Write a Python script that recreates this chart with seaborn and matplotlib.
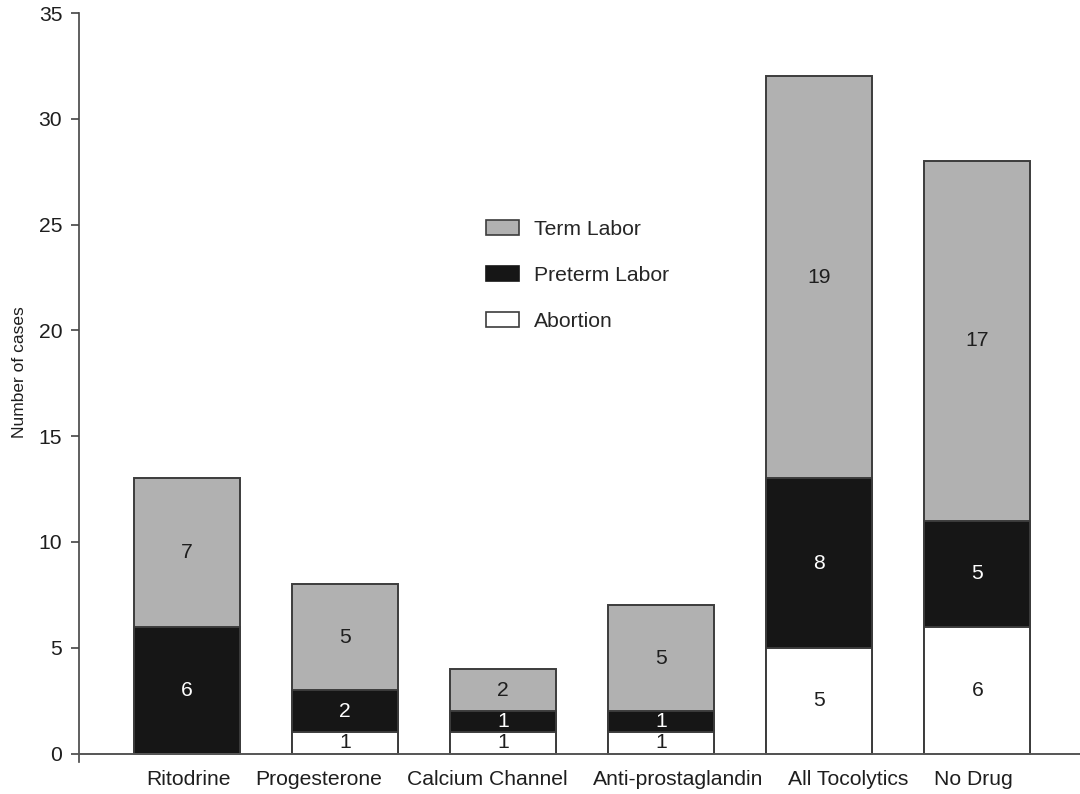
import matplotlib
matplotlib.use("Agg")
import matplotlib.pyplot as plt
import seaborn as sns
import numpy as np
from matplotlib.patches import Patch

# Outcome counts per treatment group
categories = ["Ritodrine", "Progesterone", "Calcium Channel", "Anti-prostaglandin",
              "All Tocolytics", "No Drug"]
abortion = [0, 1, 1, 1, 5, 6]
preterm_labor = [6, 2, 1, 1, 8, 5]
term_labor = [7, 5, 2, 5, 19, 17]
y_ticks = [0, 5, 10, 15, 20, 25, 30, 35]

sns.set_theme(style="white")
plt.rcParams["font.family"] = ["Liberation Sans", "DejaVu Sans"]

fig = plt.figure(figsize=(10.8, 7.94), dpi=100)
ax = fig.add_axes([0.0731, 0.0403, 0.9269, 0.9433])

ab = np.array(abortion, dtype=float)
pre = np.array(preterm_labor, dtype=float)
term = np.array(term_labor, dtype=float)

grey = "#b1b1b1"
black = "#161616"
white = "#ffffff"
edge = "#3c3c3c"
txt = "#1e1e1e"
fs = 15.2

# Stacked bars: draw cumulative totals from the top layer down
layers = [(ab + pre + term, grey), (ab + pre, black), (ab, white)]
for heights, col in layers:
    sns.barplot(x=categories, y=heights, order=categories, color=col,
                saturation=1, width=0.67, edgecolor=edge, linewidth=1.4, ax=ax)

# Segment value labels
for i in range(len(categories)):
    segs = [(ab[i], 0.0, txt),
            (pre[i], ab[i], "white"),
            (term[i], ab[i] + pre[i], txt)]
    for val, base, tc in segs:
        if val > 0:
            ax.text(i, base + val / 2, f"{int(val)}", ha="center", va="center",
                    fontsize=fs, color=tc)

ax.set_xlim(-0.684, 5.65)
ax.set_ylim(-0.4, 35)
ax.set_yticks(y_ticks)
ax.set_yticklabels([str(t) for t in y_ticks], fontsize=fs, color=txt)
ax.tick_params(axis="y", left=True, length=6, width=1.2, color="#444444", pad=6)
ax.tick_params(axis="x", bottom=False, labelsize=fs, labelcolor=txt, pad=6)
ax.set_xlabel("")
ax.set_ylabel("Number of cases", fontsize=12.5, color=txt)
ax.yaxis.set_label_coords(-0.052, 0.52)

# Category names run as one evenly spaced row starting under the first bar
renderer = fig.canvas.get_renderer()
start_px, gap_px = 146.0, 25.0
centres = []
cursor = start_px
for name in categories:
    probe = fig.text(0, 0, name, fontsize=fs)
    w = probe.get_window_extent(renderer=renderer).width
    probe.remove()
    centres.append(cursor + w / 2)
    cursor += w + gap_px
to_data = ax.transData.inverted()
tick_x = [to_data.transform((c, 0))[0] for c in centres]
ax.set_xticks(tick_x)
ax.set_xticklabels(categories, fontsize=fs, color=txt)

for side in ["top", "right"]:
    ax.spines[side].set_visible(False)
ax.spines["bottom"].set_position(("data", 0))
ax.spines["bottom"].set_color("#555555")
ax.spines["bottom"].set_linewidth(1.4)
ax.spines["left"].set_color("#444444")
ax.spines["left"].set_linewidth(1.2)

handles = [Patch(facecolor=grey, edgecolor=edge, linewidth=1.2, label="Term Labor"),
           Patch(facecolor=black, edgecolor=black, linewidth=1.2, label="Preterm Labor"),
           Patch(facecolor=white, edgecolor=edge, linewidth=1.2, label="Abortion")]
ax.legend(handles=handles, loc="upper left", bbox_to_anchor=(0.3982, 0.735),
          frameon=False, fontsize=fs, handlelength=1.56, handleheight=0.71,
          labelspacing=1.28, handletextpad=0.71, borderaxespad=0)

fig.savefig("out.png", dpi=100)
